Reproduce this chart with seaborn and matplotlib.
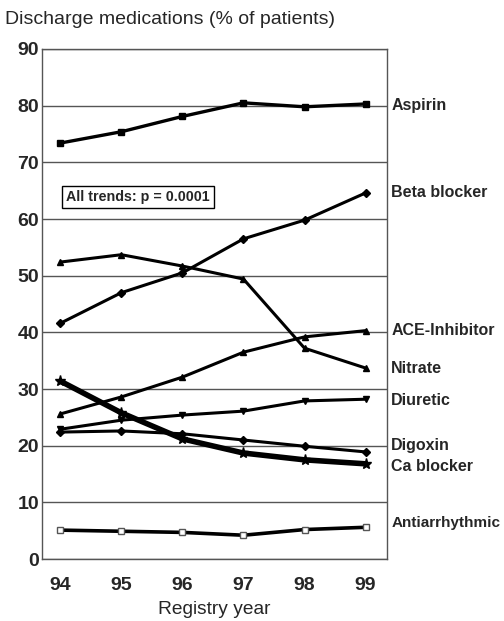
import matplotlib
matplotlib.use("Agg")
import matplotlib.pyplot as plt
import seaborn as sns
import pandas as pd

years = [94, 95, 96, 97, 98, 99]
aspirin = [73.4, 75.4, 78.1, 80.5, 79.8, 80.3]
beta_blocker = [41.6, 47.0, 50.5, 56.5, 59.8, 64.6]
nitrate = [52.4, 53.7, 51.7, 49.4, 37.2, 33.7]
ace_inhibitor = [25.6, 28.6, 32.1, 36.5, 39.2, 40.3]
diuretic = [22.9, 24.5, 25.4, 26.1, 27.9, 28.2]
digoxin = [22.4, 22.6, 22.1, 21.0, 19.9, 18.9]
ca_blocker = [31.4, 25.8, 21.2, 18.7, 17.5, 16.8]
antiarrhythmic = [5.1, 4.9, 4.7, 4.2, 5.2, 5.6]

series_names = ["Aspirin", "Beta blocker", "Nitrate", "ACE-Inhibitor", "Diuretic",
                "Digoxin", "Ca blocker", "Antiarrhythmic"]
series_vals = [aspirin, beta_blocker, nitrate, ace_inhibitor, diuretic, digoxin,
               ca_blocker, antiarrhythmic]
label_y = [80.0, 64.6, 33.7, 40.4, 28.0, 20.0, 16.4, 6.4]
yticks = [0, 10, 20, 30, 40, 50, 60, 70, 80, 90]

sns.set_theme(style="white")
plt.rcParams['font.family'] = ['Liberation Sans', 'DejaVu Sans']

fig = plt.figure(figsize=(5.04, 6.21), dpi=100)
ax = fig.add_axes([0.0833, 0.0998, 0.6845, 0.8213])

styles = {
    "Aspirin": dict(marker="s", ms=5, lw=2.4, mfc="black"),
    "Beta blocker": dict(marker="D", ms=3.8, lw=2.2, mfc="black"),
    "Nitrate": dict(marker="^", ms=5, lw=2.2, mfc="black"),
    "ACE-Inhibitor": dict(marker="^", ms=5, lw=2.2, mfc="black"),
    "Diuretic": dict(marker="v", ms=5, lw=2.2, mfc="black"),
    "Digoxin": dict(marker="D", ms=3.8, lw=2.2, mfc="black"),
    "Ca blocker": dict(marker="*", ms=8, lw=4.0, mfc="black"),
    "Antiarrhythmic": dict(marker="s", ms=5, lw=2.6, mfc="white"),
}

for name, vals in zip(series_names, series_vals):
    df = pd.DataFrame({"year": years, "value": vals})
    st = styles[name]
    sns.lineplot(data=df, x="year", y="value", ax=ax, color="black",
                 linewidth=st["lw"], marker=st["marker"], markersize=st["ms"],
                 markerfacecolor=st["mfc"],
                 markeredgecolor="black" if st["mfc"] == "black" else "#555555",
                 markeredgewidth=1.0, zorder=3)

ax.set_xlim(93.7, 99.35)
ax.set_ylim(0, 90)
ax.set_xticks(years)
ax.set_xticklabels([str(y) for y in years], fontsize=14, fontweight="bold")
ax.set_yticks(yticks)
ax.set_yticklabels([str(v) for v in yticks], fontsize=14, fontweight="bold")
ax.grid(axis="y", color="#555555", linewidth=1.0)
ax.set_axisbelow(True)
for s in ax.spines.values():
    s.set_color("#555555")
    s.set_linewidth(1.0)
ax.tick_params(axis="x", direction="out", length=8, width=1, color="#333333", pad=5)
ax.tick_params(axis="y", length=0, pad=2)
ax.set_xlabel("Registry year", fontsize=13.8, labelpad=5)
ax.set_ylabel("")

for name, ly in zip(series_names, label_y):
    fs = 11.0 if name == "Antiarrhythmic" else 11.5
    ax.text(99.42, ly, name, fontsize=fs, fontweight="bold", va="center", ha="left",
            transform=ax.transData, clip_on=False)

ax.text(94.1, 63.9, "All trends: p = 0.0001", fontsize=10.3, fontweight="bold",
        va="center", ha="left",
        bbox=dict(boxstyle="square,pad=0.3", fc="white", ec="black", lw=1.0))

fig.text(0.01, 0.968, "Discharge medications (% of patients)", fontsize=14,
         ha="left", va="center")

fig.savefig("out.png", dpi=100)
